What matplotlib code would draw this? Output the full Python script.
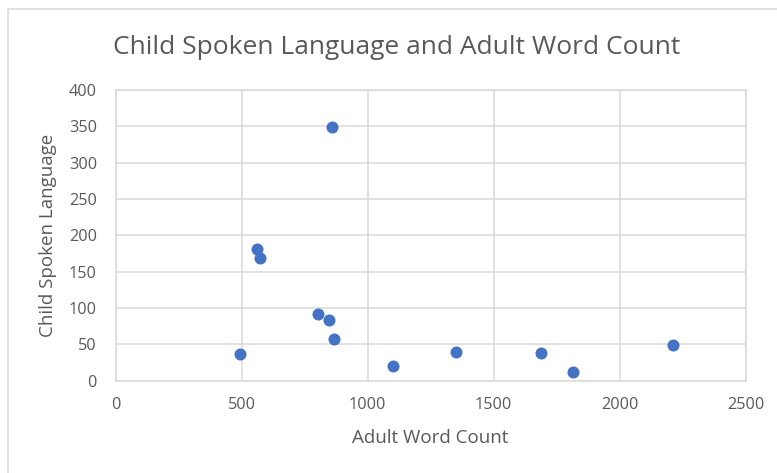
import matplotlib
matplotlib.use("Agg")
import matplotlib.pyplot as plt
from matplotlib.lines import Line2D

# values
adult_words = [859, 561, 573, 804, 845, 866, 494, 1102, 1352, 1686, 1816, 2213]
child_lang = [349, 181, 169, 92, 84, 58, 37, 20, 39, 38, 12, 49]

x_ticks = [0, 500, 1000, 1500, 2000, 2500]
y_ticks = [0, 50, 100, 150, 200, 250, 300, 350, 400]

title = "Child Spoken Language and Adult Word Count"
x_label = "Adult Word Count"
y_label = "Child Spoken Language"

plt.rcParams["font.family"] = ["Open Sans", "DejaVu Sans"]
grey = "#d9d9d9"
text_col = "#595959"

fig = plt.figure(figsize=(7.77, 4.73), dpi=100)
ax = fig.add_axes([115.7/777, 1 - 380.7/473, 630/777, 290.7/473])

ax.scatter(adult_words, child_lang, s=75, color="#4472C4", zorder=3, linewidths=0)

ax.set_xlim(0, 2500)
ax.set_ylim(0, 400)
ax.set_xticks(x_ticks)
ax.set_yticks(y_ticks)
ax.grid(True, color=grey, linewidth=1.1)
ax.set_axisbelow(True)
for s in ax.spines.values():
    s.set_color(grey)
    s.set_linewidth(1.1)
ax.tick_params(length=0, labelsize=11.7, labelcolor=text_col)
ax.tick_params(axis="x", pad=11.5)
ax.tick_params(axis="y", pad=13.5)

ax.set_xlabel(x_label, fontsize=13.5, color=text_col, va="center")
ax.set_ylabel(y_label, fontsize=13.5, color=text_col, va="center")
ax.xaxis.set_label_coords(0.499, -(438 - 380.7)/290.7)
ax.yaxis.set_label_coords(-(115.7 - 48)/630, 0.501)

fig.text(397/777, 1 - 47/473, title, ha="center", va="center", fontsize=19, color=text_col)

# chart border (top and left edges visible in reference)
fig.add_artist(Line2D([7.5/777, 7.5/777], [0, 1 - 9.5/473], transform=fig.transFigure, color=grey, linewidth=1.1))
fig.add_artist(Line2D([7.5/777, 1], [1 - 9.5/473, 1 - 9.5/473], transform=fig.transFigure, color=grey, linewidth=1.1))

fig.savefig("out.png", dpi=100, facecolor="white")
